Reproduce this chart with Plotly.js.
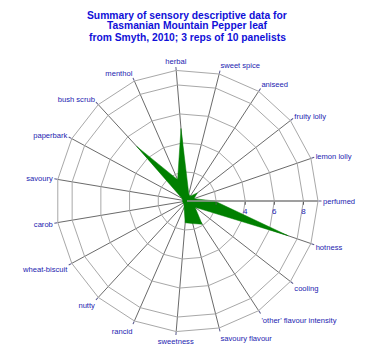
<!DOCTYPE html>
<html>
<head>
<meta charset="utf-8">
<script src="https://cdn.plot.ly/plotly-3.0.1.min.js"></script>
<style>html,body{margin:0;padding:0;background:#fff;}</style>
</head>
<body>
<div id="chart" style="width:372px;height:357px;"></div>
<script>
const categories = ["perfumed", "lemon lolly", "fruity lolly", "aniseed", "sweet spice", "herbal",
  "menthol", "bush scrub", "paperbark", "savoury", "carob", "wheat-biscuit", "nutty", "rancid",
  "sweetness", "savoury flavour", "'other' flavour intensity", "cooling", "hotness"];
const scores = [1.9, 0.5, 0.9, 0.4, 0.5, 5.0,
  1.6, 5.1, 0.4, 0.3, 0.3, 0.3, 0.3, 0.5,
  1.5, 1.6, 1.9, 0.7, 7.35];
const radialTicks = [2, 4, 6, 8];
const radialTickText = ["", "4", "6", "8"];
const titleLines = ["Summary of sensory descriptive data for",
  "Tasmanian Mountain Pepper leaf",
  "from Smyth, 2010; 3 reps of 10 panelists"];

const theta = categories.concat([categories[0]]);
const r = scores.concat([scores[0]]);

const labelBlue = "#1c1cb0";
const titleBlue = "#1010d8";
const trace = {
  type: "scatterpolar",
  r: r,
  theta: theta,
  mode: "lines",
  fill: "toself",
  fillcolor: "#008000",
  line: {color: "#008000", width: 0.5},
  hoverinfo: "none"
};

// title lines placed as annotations (pixel centres 15, 26, 37 from top)
const plotTop = 70, plotH = 262;
const lineCentres = [15, 26, 37];
const annotations = titleLines.map((t, i) => ({
  text: "<b>" + t + "</b>",
  xref: "paper", yref: "paper",
  x: 0.5, xanchor: "center",
  y: 1 + (plotTop - lineCentres[i]) / plotH, yanchor: "middle",
  showarrow: false,
  font: {family: "Liberation Sans, Arial, sans-serif", size: 10.3, color: titleBlue}
}));

const layout = {
  width: 372, height: 357,
  margin: {l: 56, r: 54, t: 70, b: 25},
  paper_bgcolor: "#fff",
  showlegend: false,
  font: {family: "Liberation Sans, Arial, sans-serif", size: 8, color: labelBlue},
  annotations: annotations,
  polar: {
    domain: {x: [0, 1], y: [0, 1]},
    bgcolor: "#fff",
    gridshape: "linear",
    radialaxis: {
      range: [0, 9],
      angle: 0,
      tickvals: radialTicks,
      ticktext: radialTickText,
      ticks: "outside",
      ticklen: 3,
      tickcolor: "#555",
      showline: true,
      linecolor: "#999",
      linewidth: 1.5,
      gridcolor: "#a8a8a8",
      gridwidth: 1,
      tickfont: {size: 8, color: labelBlue},
      layer: "above traces"
    },
    angularaxis: {
      type: "category",
      categoryarray: categories,
      direction: "counterclockwise",
      rotation: 0,
      showline: true,
      linecolor: "#a8a8a8",
      linewidth: 1,
      gridcolor: "#444",
      gridwidth: 0.8,
      ticks: "outside",
      ticklen: 3,
      tickcolor: "#558",
      tickfont: {size: 7.6, color: labelBlue},
      layer: "above traces"
    }
  }
};

Plotly.newPlot("chart", [trace], layout, {displayModeBar: false, staticPlot: true});
</script>
</body>
</html>
